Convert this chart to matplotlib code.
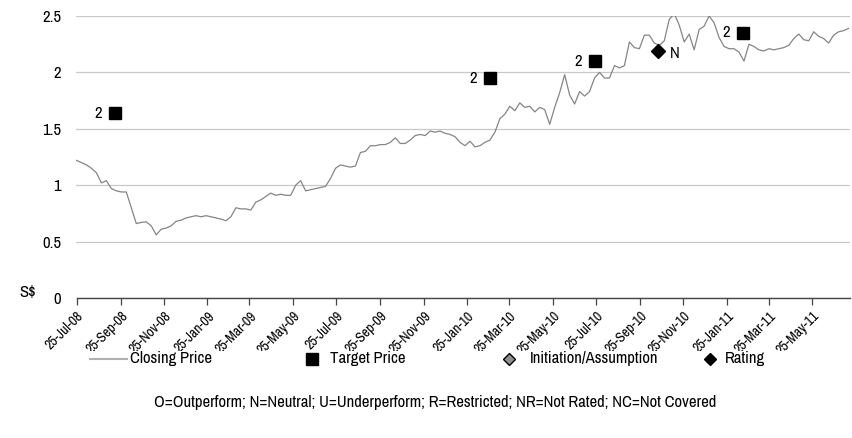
import matplotlib
matplotlib.use("Agg")
import matplotlib.pyplot as plt
from matplotlib.lines import Line2D
from matplotlib.patches import Rectangle
import pandas as pd
from matplotlib import font_manager

names = sorted({f.name for f in font_manager.fontManager.ttflist})
narrow = [n for n in names if ("Narrow" in n or "Condensed" in n)]
FONT = narrow[:1] if narrow else ["Liberation Sans"]
plt.rcParams["font.family"] = FONT + ["DejaVu Sans"]

# ---------------- data ----------------
start_date = "2008-07-25"
closing_price = [
    1.22, 1.20, 1.18, 1.15, 1.11, 1.02, 1.04, 0.97, 0.95, 0.94,
    0.94, 0.80, 0.66, 0.67, 0.675, 0.64, 0.56, 0.61, 0.62, 0.64,
    0.68, 0.69, 0.71, 0.72, 0.73, 0.72, 0.73, 0.72, 0.71, 0.70,
    0.685, 0.72, 0.80, 0.79, 0.79, 0.78, 0.85, 0.87, 0.90, 0.93,
    0.91, 0.92, 0.91, 0.91, 1.00, 1.04, 0.95, 0.96, 0.97, 0.98,
    0.99, 1.06, 1.15, 1.18, 1.17, 1.16, 1.17, 1.29, 1.30, 1.35,
    1.35, 1.36, 1.36, 1.38, 1.42, 1.37, 1.37, 1.40, 1.44, 1.45,
    1.44, 1.48, 1.47, 1.48, 1.46, 1.45, 1.43, 1.38, 1.35, 1.39,
    1.34, 1.35, 1.38, 1.40, 1.47, 1.59, 1.63, 1.70, 1.66, 1.73,
    1.69, 1.70, 1.65, 1.69, 1.67, 1.54, 1.69, 1.82, 1.98, 1.80,
    1.72, 1.83, 1.79, 1.83, 1.95, 2.00, 1.95, 1.95, 2.06, 2.04,
    2.06, 2.27, 2.22, 2.21, 2.33, 2.33, 2.26, 2.24, 2.28, 2.47,
    2.52, 2.42, 2.27, 2.34, 2.20, 2.38, 2.41, 2.50, 2.44, 2.31,
    2.23, 2.21, 2.21, 2.18, 2.10, 2.25, 2.23, 2.20, 2.19, 2.21,
    2.20, 2.21, 2.22, 2.24, 2.30, 2.34, 2.29, 2.28, 2.36, 2.32,
    2.30, 2.26, 2.33, 2.36, 2.37, 2.39,
]
price_dates = pd.date_range(start_date, periods=len(closing_price), freq="7D")

target_dates = ["2008-09-17", "2010-02-26", "2010-07-23", "2011-02-16"]
target_values = [1.64, 1.95, 2.10, 2.35]
target_labels = ["2", "2", "2", "2"]

rating_dates = ["2010-10-20"]
rating_values = [2.19]
rating_labels = ["N"]

tick_labels = ["25-Jul-08", "25-Sep-08", "25-Nov-08", "25-Jan-09", "25-Mar-09",
               "25-May-09", "25-Jul-09", "25-Sep-09", "25-Nov-09", "25-Jan-10",
               "25-Mar-10", "25-May-10", "25-Jul-10", "25-Sep-10", "25-Nov-10",
               "25-Jan-11", "25-Mar-11", "25-May-11"]
tick_dates = pd.to_datetime(tick_labels, format="%d-%b-%y")
y_ticks = [0, 0.5, 1, 1.5, 2, 2.5]
y_ticklabels = ["0", "0.5", "1", "1.5", "2", "2.5"]

FS = 12

# ---------------- figure ----------------
W, H = 853, 438
fig = plt.figure(figsize=(W / 100, H / 100), dpi=100)
ax = fig.add_axes([76.5 / W, 1 - 298 / H, (850 - 76.5) / W, (298 - 16) / H])

ax.plot(price_dates, closing_price, color="#858585", lw=0.9, zorder=3)

td = pd.to_datetime(target_dates)
ax.plot(td, target_values, ls="none", marker="s", ms=9, color="black", zorder=4)
for d, v, t in zip(td, target_values, target_labels):
    ax.annotate(t, (d, v), xytext=(-9, 0), textcoords="offset points",
                ha="right", va="center", fontsize=FS, fontweight="bold")

rd = pd.to_datetime(rating_dates)
ax.plot(rd, rating_values, ls="none", marker="D", ms=7.5, color="black", zorder=4)
for d, v, t in zip(rd, rating_values, rating_labels):
    ax.annotate(t, (d, v), xytext=(9, -2), textcoords="offset points",
                ha="left", va="center", fontsize=FS, fontweight="bold")

ax.set_ylim(0, 2.5)
ax.set_xlim(pd.Timestamp("2008-07-25"), pd.Timestamp("2011-07-17"))
ax.set_yticks(y_ticks)
ax.set_yticklabels(y_ticklabels)
ax.yaxis.grid(True, color="#c8c8c8", lw=0.9)
ax.set_axisbelow(True)
ax.tick_params(axis="y", length=0, pad=11, labelsize=FS)

ax.set_xticks(tick_dates)
ax.set_xticklabels(tick_labels)
ax.tick_params(axis="x", direction="out", length=5, width=0.9, color="#444444",
               labelsize=10, pad=3)
for lab in ax.get_xticklabels():
    lab.set_rotation(45)
    lab.set_ha("right")
    lab.set_va("top")
    lab.set_rotation_mode("anchor")

for s in ["top", "right", "left"]:
    ax.spines[s].set_visible(False)
ax.spines["bottom"].set_color("#444444")
ax.spines["bottom"].set_linewidth(1.0)

fig.text(19 / W, 1 - 293 / H, "S$", fontsize=FS, ha="left", va="center")

# legend row (opaque box, as in the original, trimming the lower tips of the date labels)
ly = 1 - 359 / H
fig.add_artist(Rectangle((85 / W, 1 - 370 / H), (800 - 85) / W, (370 - 351) / H,
                         transform=fig.transFigure, facecolor="white",
                         edgecolor="none", zorder=1))
fig.add_artist(Line2D([90 / W, 127 / W], [ly, ly], color="#b0b0b0", lw=1.5, zorder=2))
fig.text(130 / W, ly, "Closing Price", fontsize=FS, va="center")
fig.add_artist(Line2D([312 / W], [ly], marker="s", ms=9, color="black", ls="none", zorder=2))
fig.text(330 / W, ly, "Target Price", fontsize=FS, va="center")
fig.add_artist(Line2D([509 / W], [ly], marker="D", ms=6, color="#909090",
                      markeredgecolor="black", ls="none", zorder=2))
fig.text(530 / W, ly, "Initiation/Assumption", fontsize=FS, va="center")
fig.add_artist(Line2D([710 / W], [ly], marker="D", ms=6, color="black", ls="none", zorder=2))
fig.text(725 / W, ly, "Rating", fontsize=FS, va="center")

fig.text(435 / W, 1 - 403 / H,
         "O=Outperform; N=Neutral; U=Underperform; R=Restricted; NR=Not Rated; NC=Not Covered",
         fontsize=FS, ha="center", va="center")

fig.savefig("out.png", dpi=100)
